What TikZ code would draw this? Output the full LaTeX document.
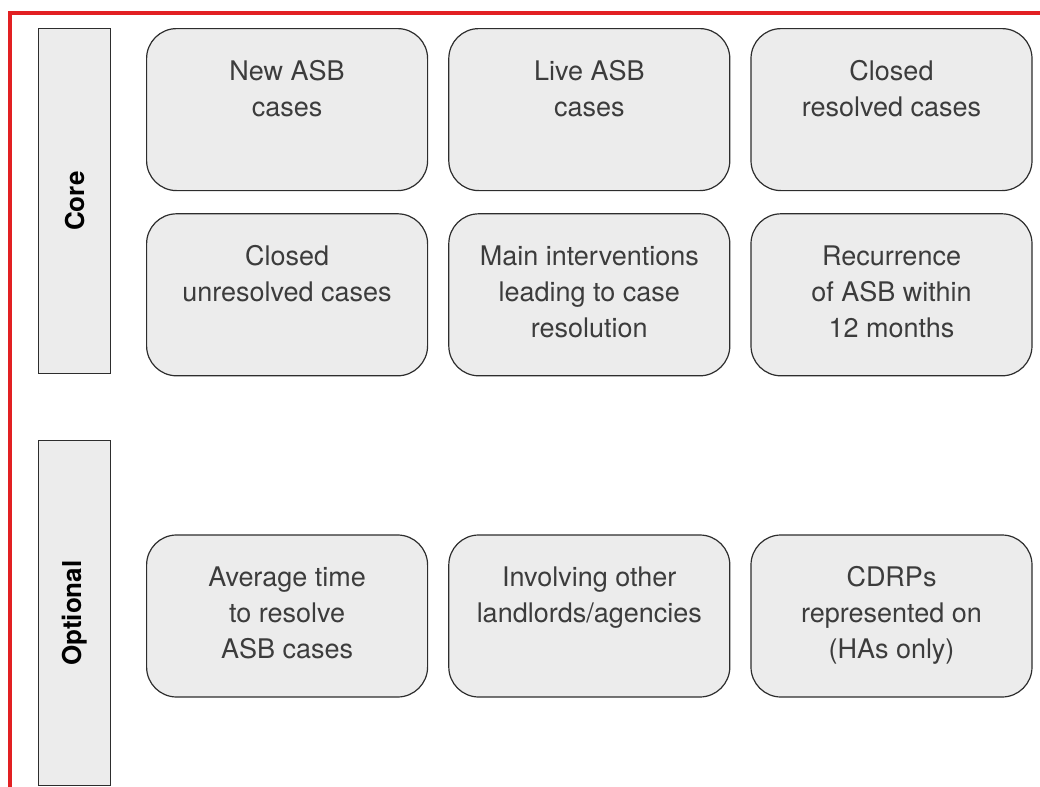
\documentclass[tikz,border=0pt]{standalone}
\usepackage{fontspec}
\setmainfont{TeX Gyre Heros}
\usetikzlibrary{positioning}

\definecolor{frame red}{RGB}{226,32,34}
\definecolor{box gray}{RGB}{236,236,236}
\definecolor{edge gray}{RGB}{45,45,45}
\definecolor{text gray}{RGB}{60,60,60}

\begin{document}
\begin{tikzpicture}[node distance=10pt]
        \tikzstyle{casebox} = [draw=edge gray, line width=0.6pt, fill=box gray, rectangle, rounded corners=15pt, minimum width=140.5pt, minimum height=81pt]
        \tikzstyle{casetext} = [align=center, inner sep=0pt, text=text gray, font=\fontsize{13.5}{18}\selectfont]
        \tikzstyle{sidebox} = [draw=edge gray, line width=0.6pt, fill=box gray, rectangle, minimum width=36pt, minimum height=172.5pt, anchor=north west]
        \tikzstyle{sidetext} = [rotate=90, font=\fontsize{13}{18}\selectfont\bfseries]

        \useasboundingbox (0,0) rectangle (520pt,-393.5pt);

        % red frame
        \draw [frame red, line width=2pt] (5pt,-393.5pt) |- (520pt,-6.25pt);

        % side labels
        \node [sidebox] (core) at (19pt,-14pt) {};
        \node [sidebox] (optional) at (19pt,-220pt) {};
        \node [sidetext] at (core) {Core};
        \node [sidetext] at (optional) {Optional};

        % core boxes
        \node [casebox, anchor=north west] (newasb) at (73pt,-14pt) {};
        \node [casebox, right=of newasb] (liveasb) {};
        \node [casebox, right=of liveasb] (resolved) {};
        \node [casebox, below=11pt of newasb] (unresolved) {};
        \node [casebox, right=of unresolved] (interventions) {};
        \node [casebox, right=of interventions] (recurrence) {};

        % optional boxes
        \node [casebox, below=79pt of unresolved] (avgtime) {};
        \node [casebox, right=of avgtime] (involving) {};
        \node [casebox, right=of involving] (cdrps) {};

        \node [casetext, below=16pt of newasb.north] {New ASB\\cases};
        \node [casetext, below=16pt of liveasb.north] {Live ASB\\cases};
        \node [casetext, below=16pt of resolved.north] {Closed\\resolved cases};
        \node [casetext, below=16pt of unresolved.north] {Closed\\unresolved cases};
        \node [casetext, below=16pt of interventions.north] {Main interventions\\leading to case\\resolution};
        \node [casetext, below=16pt of recurrence.north] {Recurrence\\of ASB within\\12 months};
        \node [casetext, below=16pt of avgtime.north] {Average time\\to resolve\\ASB cases};
        \node [casetext, below=16pt of involving.north] {Involving other\\landlords/agencies};
        \node [casetext, below=16pt of cdrps.north] {CDRPs\\represented on\\(HAs only)};
\end{tikzpicture}
\end{document}
